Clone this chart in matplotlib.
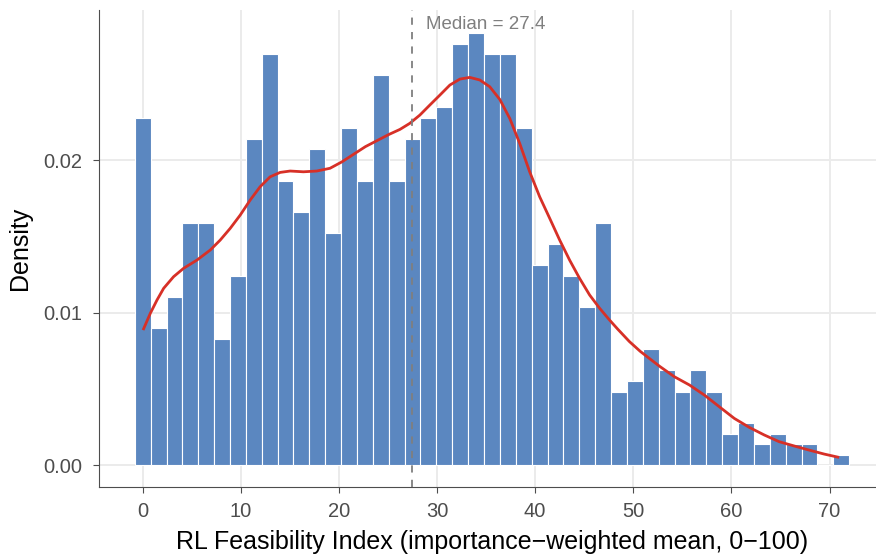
import matplotlib
matplotlib.use("Agg")
import matplotlib.pyplot as plt

plt.rcParams['font.family'] = ['Liberation Sans', 'DejaVu Sans']

# histogram bins (centres) and densities
bin_width = 1.618
bin_centers = [0.00, 1.62, 3.24, 4.85, 6.47, 8.09, 9.71, 11.33, 12.94, 14.56,
               16.18, 17.80, 19.42, 21.03, 22.65, 24.27, 25.89, 27.51, 29.12, 30.74,
               32.36, 33.98, 35.60, 37.21, 38.83, 40.45, 42.07, 43.69, 45.30, 46.92,
               48.54, 50.16, 51.78, 53.39, 55.01, 56.63, 58.25, 59.87, 61.48, 63.10,
               64.72, 66.34, 67.96, 69.57, 71.19]
densities = [0.02281, 0.00899, 0.01106, 0.01590, 0.01590, 0.00830, 0.01244, 0.02143, 0.02696, 0.01867,
             0.01659, 0.02074, 0.01521, 0.02212, 0.01867, 0.02558, 0.01867, 0.02143, 0.02281, 0.02350,
             0.02765, 0.02834, 0.02696, 0.02696, 0.02212, 0.01313, 0.01452, 0.01244, 0.01037, 0.01590,
             0.00484, 0.00553, 0.00760, 0.00622, 0.00484, 0.00622, 0.00484, 0.00207, 0.00277, 0.00138,
             0.00207, 0.00138, 0.00138, 0.00000, 0.00069]

# kernel density curve
kde_x = [0.04, 0.78, 1.46, 2.14, 3.15, 4.17, 5.53, 6.89, 7.90, 8.92, 9.94, 10.96, 11.97,
         12.99, 14.01, 15.03, 16.38, 17.74, 19.09, 20.3, 21.5, 22.7, 23.9, 25.1, 26.22,
         27.23, 28.25, 29.27, 30.29, 31.31, 32.33, 33.34, 34.36, 35.37, 36.39, 37.41,
         38.43, 39.44, 40.46, 41.48, 42.50, 43.51, 44.53, 45.55, 46.57, 47.58, 48.43,
         49.6, 50.7, 51.7, 52.67, 54.19, 55.72, 57.24, 58.77, 60.29, 61.82, 63.35, 64.87,
         66.40, 67.92, 69.45, 70.98]
kde_y = [0.00887, 0.00997, 0.01084, 0.01161, 0.01237, 0.01292, 0.01346, 0.01412, 0.01477,
         0.01554, 0.01641, 0.01740, 0.01827, 0.01892, 0.01921, 0.01930, 0.01925, 0.01930,
         0.01948, 0.01990, 0.02040, 0.02090, 0.02130, 0.02170, 0.02203, 0.02243, 0.02297,
         0.02363, 0.02428, 0.02494, 0.02533, 0.02544, 0.02527, 0.02483, 0.02400, 0.02275,
         0.02110, 0.01925, 0.01761, 0.01620, 0.01477, 0.01346, 0.01226, 0.01117, 0.01030,
         0.00953, 0.00892, 0.00812, 0.00748, 0.00698, 0.00650, 0.00581, 0.00527, 0.00461,
         0.00384, 0.00308, 0.00249, 0.00199, 0.00155, 0.00127, 0.00100, 0.00074, 0.00052]

median_value = 27.4
x_ticks = [0, 10, 20, 30, 40, 50, 60, 70]
y_ticks = [0.00, 0.01, 0.02]

fig = plt.figure(figsize=(8.76, 5.56), dpi=100)
# panel runs a little past the right edge, as in the original export
ax = fig.add_axes([99 / 876, 69 / 556, 785.5 / 876, 477 / 556])

ax.bar(bin_centers, densities, width=bin_width, color='#5b87c0', edgecolor='white',
       linewidth=0.8, zorder=2)
ax.plot(kde_x, kde_y, color='#d73027', linewidth=2.0, zorder=3,
        solid_joinstyle='round', solid_capstyle='butt')
ax.axvline(median_value, color='#7f7f7f', linestyle=(0, (4, 4)), linewidth=1.3, zorder=4)
ax.text(median_value + 1.5, 0.02894, 'Median = %.1f' % median_value, color='#7f7f7f',
        fontsize=13.5, va='center', ha='left', zorder=5)

ax.set_xlim(-4.45, 75.6)
ax.set_ylim(-0.00142, 0.02986)
ax.set_xticks(x_ticks)
ax.set_yticks(y_ticks)
ax.set_yticklabels(['%.2f' % v for v in y_ticks])
ax.grid(True, color='#ebebeb', linewidth=1.4, zorder=0)
ax.set_axisbelow(True)

for side in ['top', 'right']:
    ax.spines[side].set_visible(False)
for side in ['left', 'bottom']:
    ax.spines[side].set_color('#4d4d4d')
    ax.spines[side].set_linewidth(0.8)
ax.tick_params(axis='both', colors='#4d4d4d', labelsize=14.5, length=4, width=0.8)
ax.tick_params(axis='x', pad=7)
ax.tick_params(axis='y', pad=8)

ax.set_xlabel('RL Feasibility Index (importance\u2212weighted mean, 0\u2212100)', fontsize=18, labelpad=6)
ax.set_ylabel('Density', fontsize=18, labelpad=8)

fig.savefig('out.png', dpi=100)
